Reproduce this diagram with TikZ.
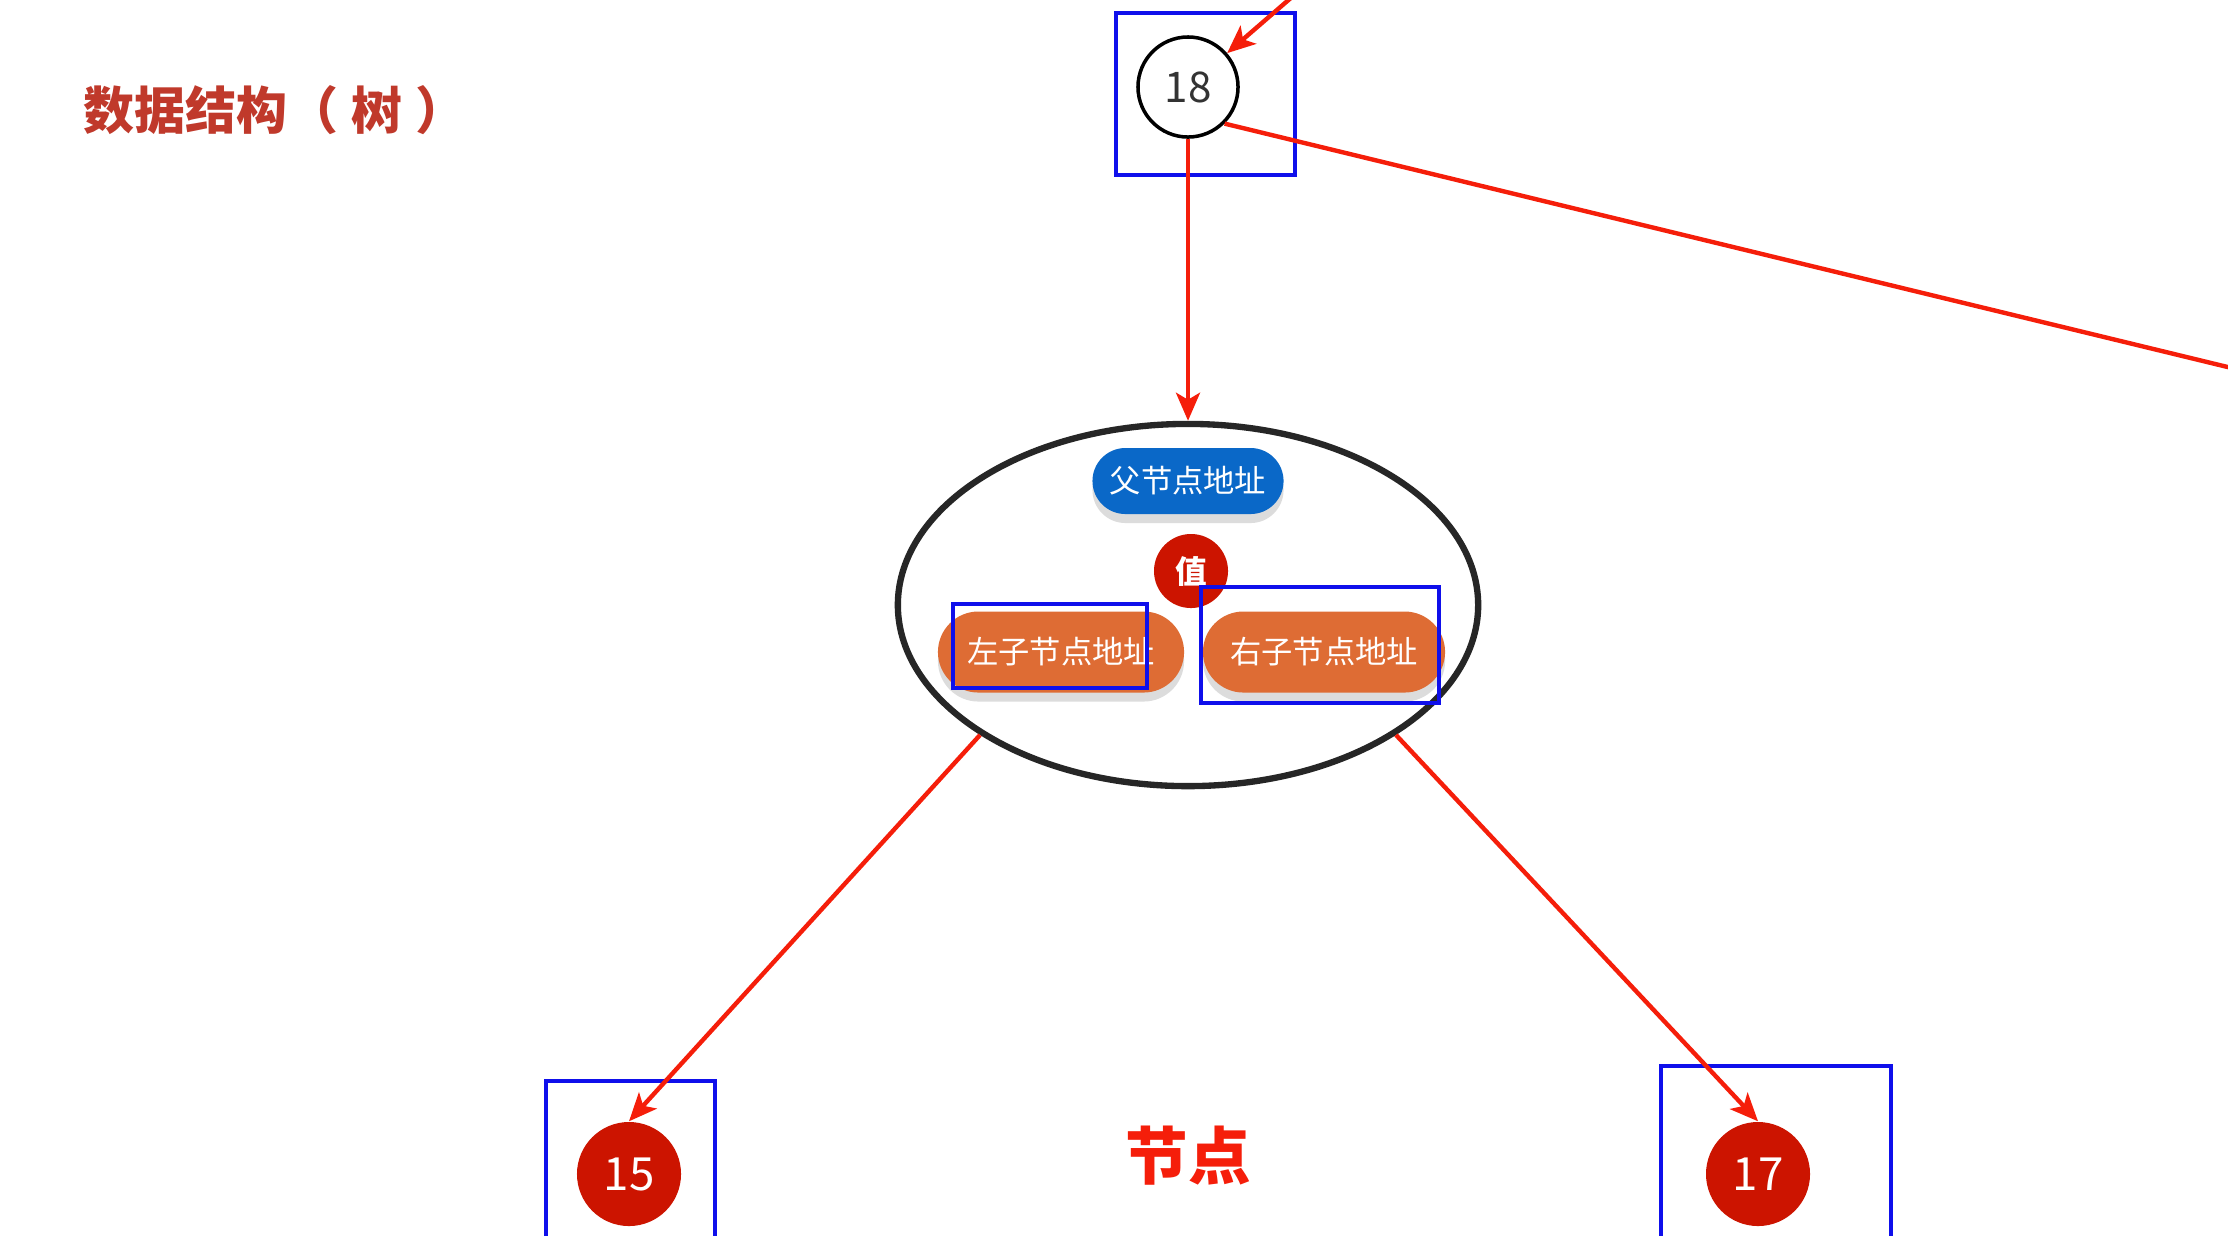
\documentclass[tikz,border=0pt]{standalone}
\usepackage{fontspec}
\newfontfamily\cjk{Noto Sans CJK SC}
\usetikzlibrary{arrows.meta,shapes.geometric,shapes.misc,shadows}
\definecolor{titlered}{RGB}{192,57,43}
\definecolor{linered}{RGB}{245,30,10}
\definecolor{boxblue}{RGB}{15,15,235}
\definecolor{pillblue}{RGB}{10,104,200}
\definecolor{pillorange}{RGB}{222,108,52}
\definecolor{valred}{RGB}{204,20,0}
\tikzset{
  treenode/.style = {circle, fill=valred, text=white, inner sep=0pt,
                     minimum size=1.04cm, font=\cjk\fontsize{13}{13}\selectfont},
  pill/.style     = {rounded rectangle, text=white, inner sep=0pt,
                     minimum height=0.81cm, font=\cjk\fontsize{8.9}{9}\selectfont,
                     drop shadow={shadow xshift=0pt, shadow yshift=-0.9mm,
                                  fill=black!30, opacity=0.45}},
  markbox/.style  = {draw=boxblue, line width=1.35pt},
  sig/.style      = {-{Stealth[length=2.8mm,width=2.4mm,inset=0.7mm]},
                     draw=linered, line width=1.25pt},
}

\begin{document}
\begin{tikzpicture}[x=0.01cm,y=-0.01cm]
\useasboundingbox (0,0) rectangle (2228,1235);
\fill[white] (0,0) rectangle (2228,1235);

\node[font=\cjk\bfseries\fontsize{14.5}{15}\selectfont, text=titlered] (title) at (275,110)
  {数据结构（\hspace{0.25em}树\hspace{0.25em}）};

% root
\node[circle, draw=black, line width=1pt, minimum size=1.0cm, inner sep=0pt,
      text=black!80, font=\cjk\fontsize{12}{12}\selectfont] (n18) at (1188,87) {18};
\draw[markbox] (1116,13) rectangle (1295,175);

% one node, drawn open
\node[ellipse, draw=black!85, line width=1.8pt, minimum width=5.8cm,
      minimum height=3.62cm, inner sep=0pt] (tree) at (1188,605) {};
\node[pill, fill=pillblue, minimum width=1.91cm, minimum height=0.66cm] (parent) at (1188,481) {父节点地址};
\node[circle, fill=valred, text=white, inner sep=0pt, minimum size=0.74cm,
      font=\cjk\bfseries\fontsize{9}{9}\selectfont] (val) at (1191,571) {值};
\node[pill, fill=pillorange, minimum width=2.46cm] (left) at (1061,652) {左子节点地址};
\node[pill, fill=pillorange, minimum width=2.42cm] (right) at (1324,652) {右子节点地址};
\draw[markbox] (953,604) rectangle (1147,688);
\draw[markbox] (1201,587) rectangle (1439,703);

% children
\node[treenode] (n15) at (629,1174) {15};
\node[treenode] (n17) at (1758,1174) {17};
\draw[markbox] (546,1081) rectangle (715,1260);
\draw[markbox] (1661,1066) rectangle (1891,1260);

\node[font=\cjk\bfseries\fontsize{17.8}{18}\selectfont, text=linered] (label) at (1188,1156) {节点};

% connectors
\coordinate (from) at (1300,-10);
\coordinate (away) at (2240,370);
\draw[sig] (from) -- (n18);
\draw[draw=linered, line width=1.25pt] (n18.-45) -- (away);
\draw[sig] (n18) -- (tree.north);
\draw[sig] (tree.-148) -- (n15.north);
\draw[sig] (tree.-32) -- (n17.north);
\end{tikzpicture}
\end{document}
